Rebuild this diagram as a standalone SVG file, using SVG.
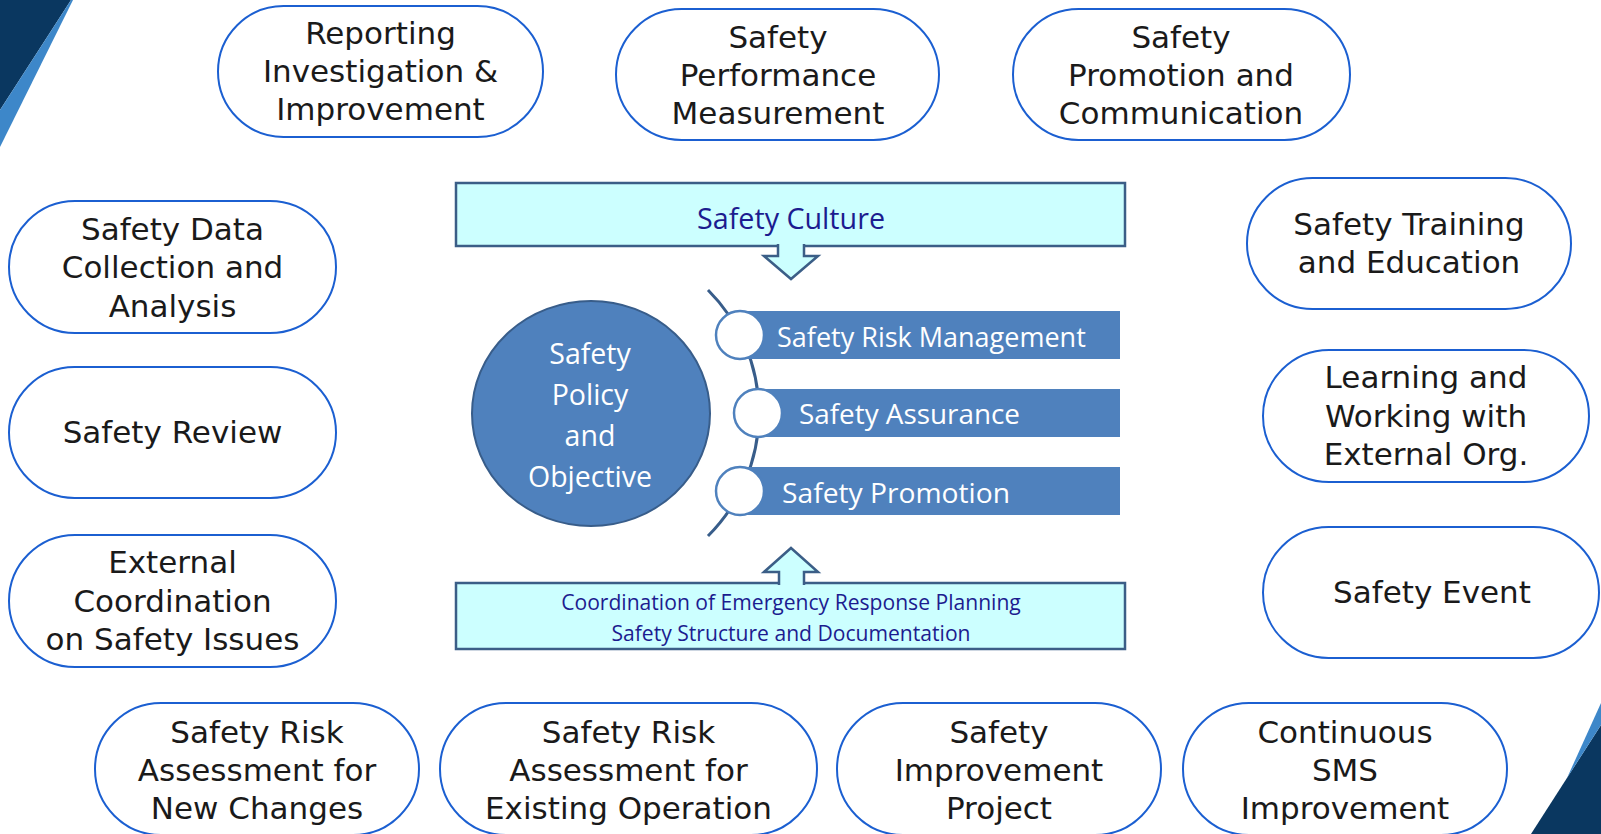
<svg xmlns="http://www.w3.org/2000/svg" width="1601" height="834" viewBox="0 0 1601 834">
<style>
.pill{fill:#fff;stroke:#1b5fd1;stroke-width:2}
.pt{font-family:"DejaVu Sans","Liberation Sans",sans-serif;font-size:31px;fill:#1a1a1a;text-anchor:middle}
.box{fill:#ccffff;stroke:#3b5e87;stroke-width:2.5}
.bt{font-family:"Open Sans","Noto Sans",sans-serif;fill:#1c1c8f;text-anchor:middle}
.bar{fill:#4f81bd}
.knob{fill:#fff;stroke:#4f81bd;stroke-width:2.5}
.wt{font-family:"Open Sans","Noto Sans",sans-serif;fill:#fff;font-size:27px}
.arrow{fill:#ccffff;stroke:#3b5e87;stroke-width:2.5;stroke-linejoin:miter}
</style>
<rect x="0" y="0" width="1601" height="834" fill="#fff"/>
<g id="decor">
<polygon points="0,0 71,0 0,110" fill="#0a3760"/>
<polygon points="71,0 73,0 0,147 0,110" fill="#3d87c9"/>
<polygon points="1531,834 1601,725 1601,834" fill="#0a3760"/>
<polygon points="1601,703 1601,725 1567,778" fill="#3d87c9"/>
</g>
<g id="n-reporting"><rect class="pill" x="218" y="6" width="325" height="131" rx="65.5"/>
<text class="pt" x="380.5"><tspan x="380.5" y="44">Reporting</tspan><tspan x="380.5" y="82">Investigation &amp;</tspan><tspan x="380.5" y="120">Improvement</tspan></text></g>
<g id="n-performance"><rect class="pill" x="616" y="9" width="323" height="131" rx="65.5"/>
<text class="pt"><tspan x="778" y="48">Safety</tspan><tspan x="778" y="86">Performance</tspan><tspan x="778" y="124">Measurement</tspan></text></g>
<g id="n-promotion-comm"><rect class="pill" x="1013" y="9" width="337" height="131" rx="65.5"/>
<text class="pt"><tspan x="1181" y="48">Safety</tspan><tspan x="1181" y="86">Promotion and</tspan><tspan x="1181" y="124">Communication</tspan></text></g>
<g id="n-data"><rect class="pill" x="9" y="201" width="327" height="132" rx="66"/>
<text class="pt"><tspan x="172.5" y="240">Safety Data</tspan><tspan x="172.5" y="278">Collection and</tspan><tspan x="172.5" y="317">Analysis</tspan></text></g>
<g id="n-review"><rect class="pill" x="9" y="367" width="327" height="131" rx="65.5"/>
<text class="pt" x="172.5" y="443">Safety Review</text></g>
<g id="n-external-coord"><rect class="pill" x="9" y="535" width="327" height="132" rx="66"/>
<text class="pt"><tspan x="172.5" y="573">External</tspan><tspan x="172.5" y="612">Coordination</tspan><tspan x="172.5" y="650">on Safety Issues</tspan></text></g>
<g id="n-training"><rect class="pill" x="1247" y="178" width="324" height="131" rx="65.5"/>
<text class="pt"><tspan x="1409" y="235">Safety Training</tspan><tspan x="1409" y="273">and Education</tspan></text></g>
<g id="n-learning"><rect class="pill" x="1263" y="350" width="326" height="132" rx="66"/>
<text class="pt"><tspan x="1426" y="388">Learning and</tspan><tspan x="1426" y="427">Working with</tspan><tspan x="1426" y="465">External Org.</tspan></text></g>
<g id="n-event"><rect class="pill" x="1263" y="527" width="336" height="131" rx="65.5"/>
<text class="pt" x="1432" y="603">Safety Event</text></g>
<g id="n-sra-new"><rect class="pill" x="95" y="703" width="324" height="132" rx="66"/>
<text class="pt"><tspan x="257" y="743">Safety Risk</tspan><tspan x="257" y="781">Assessment for</tspan><tspan x="257" y="819">New Changes</tspan></text></g>
<g id="n-sra-existing"><rect class="pill" x="440" y="703" width="377" height="132" rx="66"/>
<text class="pt"><tspan x="628.5" y="743">Safety Risk</tspan><tspan x="628.5" y="781">Assessment for</tspan><tspan x="628.5" y="819">Existing Operation</tspan></text></g>
<g id="n-improvement-project"><rect class="pill" x="837" y="703" width="324" height="132" rx="66"/>
<text class="pt"><tspan x="999" y="743">Safety</tspan><tspan x="999" y="781">Improvement</tspan><tspan x="999" y="819">Project</tspan></text></g>
<g id="n-continuous"><rect class="pill" x="1183" y="703" width="324" height="132" rx="66"/>
<text class="pt"><tspan x="1345" y="743">Continuous</tspan><tspan x="1345" y="781">SMS</tspan><tspan x="1345" y="819">Improvement</tspan></text></g>
<g id="n-culture"><rect class="box" x="456" y="183" width="669" height="63"/>
<text class="bt" x="791" y="228.5" font-size="28.7">Safety Culture</text></g>
<g id="n-foundation"><rect class="box" x="456" y="583" width="669" height="66"/>
<text class="bt" font-size="21.1"><tspan x="791" y="609.5">Coordination of Emergency Response Planning</tspan><tspan x="791" y="640.5">Safety Structure and Documentation</tspan></text></g>
<g id="n-pillars">
<path d="M708,290 A174,174 0 0 1 708,536" fill="none" stroke="#385d8a" stroke-width="3"/>
<rect class="bar" x="740" y="311" width="380" height="48"/>
<rect class="bar" x="758" y="389" width="362" height="48"/>
<rect class="bar" x="740" y="467" width="380" height="48"/>
<circle class="knob" cx="740" cy="335" r="24"/>
<circle class="knob" cx="758" cy="413" r="24"/>
<circle class="knob" cx="740" cy="491" r="24"/>
<text class="wt" x="777" y="347">Safety Risk Management</text>
<text class="wt" x="799" y="424" textLength="221" lengthAdjust="spacingAndGlyphs">Safety Assurance</text>
<text class="wt" x="782" y="503" textLength="228" lengthAdjust="spacingAndGlyphs">Safety Promotion</text>
</g>
<g id="n-policy"><ellipse cx="591" cy="413.5" rx="119" ry="112.5" fill="#4f81bd" stroke="#385d8a" stroke-width="2"/>
<text font-family="'Open Sans','Noto Sans',sans-serif" font-size="28.5" fill="#fff" text-anchor="middle"><tspan x="590" y="364">Safety</tspan><tspan x="590" y="405">Policy</tspan><tspan x="590" y="446">and</tspan><tspan x="590" y="487">Objective</tspan></text></g>
<g id="connectors">
<path class="arrow" d="M778,244 V256 H764 L791,279 L818,256 H804 V244"/>
<path class="arrow" d="M779,585 V572 H764 L791,548 L818,572 H804 V585"/>
</g>
</svg>
